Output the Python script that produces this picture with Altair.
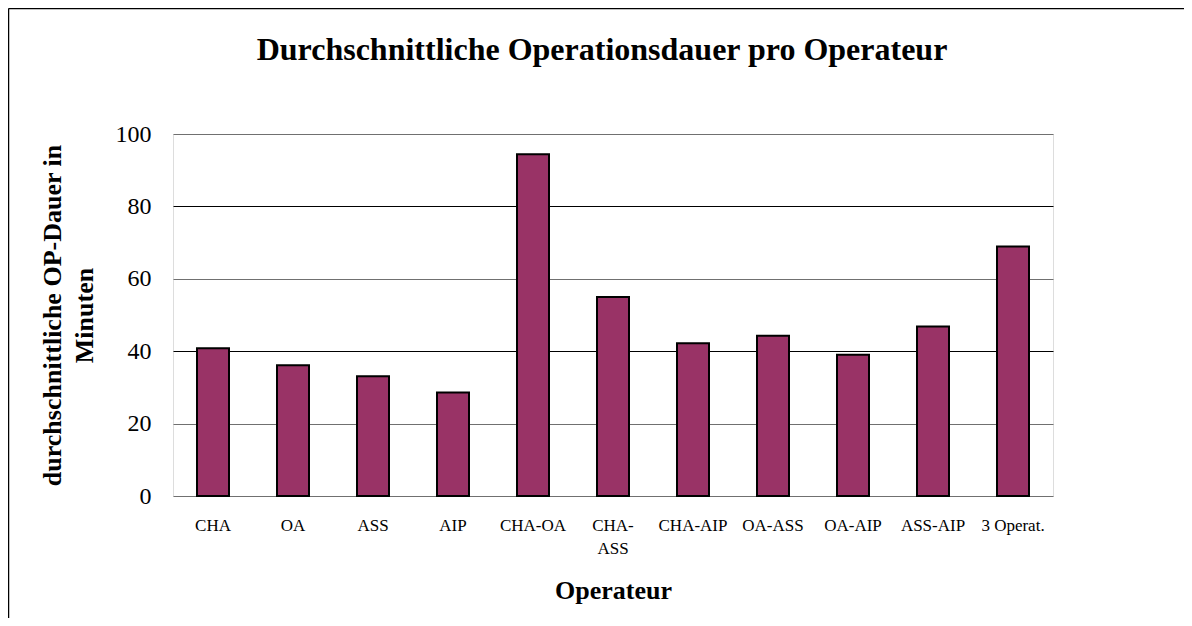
import altair as alt
import pandas as pd

categories = ["CHA", "OA", "ASS", "AIP", "CHA-OA", "CHA-ASS", "CHA-AIP",
              "OA-ASS", "OA-AIP", "ASS-AIP", "3 Operat."]
values = [40.8, 36.1, 33.1, 28.6, 94.4, 55.0, 42.2, 44.3, 39.0, 46.8, 68.9]

df = pd.DataFrame({"Operateur": categories, "Dauer": values})

FONT = "Liberation Serif"

bars = alt.Chart(df).mark_bar(
    fill="#993366", stroke="black", strokeWidth=2
).encode(
    x=alt.X(
        "Operateur:N", sort=categories,
        scale=alt.Scale(paddingInner=0.6, paddingOuter=0.3),
        axis=alt.Axis(
            title="Operateur", labelAngle=0, domain=False, ticks=False,
            labelPadding=21, labelFontSize=17, labelFont=FONT, labelColor="black",
            labelLineHeight=23,
            labelExpr="datum.label == 'CHA-ASS' ? ['CHA-', 'ASS'] : datum.label",
            titleFont=FONT, titleFontSize=26, titleFontWeight="bold", titleColor="black",
            titleX=440, titleY=102, titleBaseline="alphabetic", titleAlign="center",
        ),
    ),
    y=alt.Y(
        "Dauer:Q",
        scale=alt.Scale(domain=[0, 100], nice=False),
        axis=alt.Axis(
            values=[0, 20, 40, 60, 80, 100],
            title=["durchschnittliche OP-Dauer in", "Minuten"],
            domain=False, ticks=False, labelPadding=22,
            labelFontSize=24, labelFont=FONT, labelColor="black",
            grid=True,
            gridColor={"condition": {"test": "datum.value == 20 || datum.value == 60 || datum.value == 0 || datum.value == 100",
                                     "value": "#707070"}, "value": "black"},
            gridWidth=1, gridOpacity=1,
            titleFont=FONT, titleFontSize=26, titleFontWeight="bold", titleColor="black",
            titleLineHeight=32, titleAngle=-90, titleX=-121, titleY=181,
            titleAlign="center", titleBaseline="middle",
        ),
    ),
)

frame_df = pd.DataFrame({"b": [0]})
left_line = alt.Chart(frame_df).mark_rule(color="black", strokeWidth=1.5).encode(
    x=alt.value(-164.5), y=alt.value(-125.5), y2=alt.value(492)
)
top_line = alt.Chart(frame_df).mark_rule(color="black", strokeWidth=1.5).encode(
    x=alt.value(-164.5), x2=alt.value(1019), y=alt.value(-125.5)
)

chart = alt.layer(bars, left_line, top_line).properties(
    width=880, height=362,
    autosize=alt.AutoSizeParams(type="none"),
    padding={"left": 165, "top": 126, "right": 131, "bottom": 122},
    title=alt.TitleParams(
        "Durchschnittliche Operationsdauer pro Operateur",
        font=FONT, fontSize=32, fontWeight="bold", color="black",
        anchor="middle", frame="group", dx=-11, offset=-84, baseline="alphabetic",
    ),
).configure_view(
    stroke="#888888", strokeWidth=2
).configure(background="white")

chart.save("out.html", embed_options={"renderer": "svg", "actions": False})
